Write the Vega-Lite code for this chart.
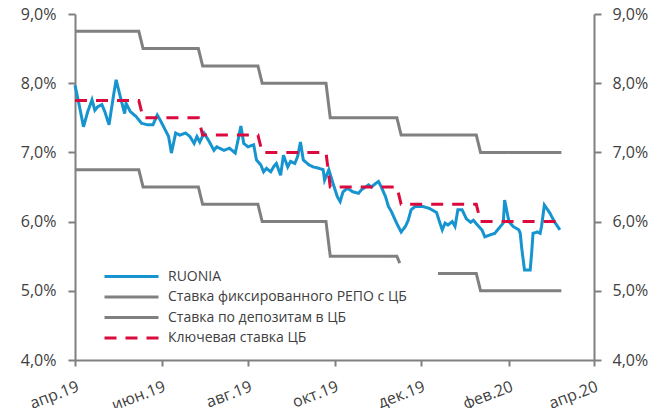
{
  "$schema": "https://vega.github.io/schema/vega-lite/v6.json",
  "width": 519,
  "height": 346,
  "autosize": {"type": "none"},
  "padding": {"left": 75, "top": 14, "right": 59, "bottom": 48},
  "background": "white",
  "config": {
    "view": {"stroke": null},
    "axis": {"grid": false, "domainColor": "#808080", "domainWidth": 2, "tickColor": "#808080", "tickWidth": 2, "tickSize": 7, "labelFont": "Open Sans", "labelFontSize": 16, "labelColor": "#404040", "title": null}
  },
  "data": {
    "values": [
      {"s": "RUONIA", "g": "a", "date": "2019-04-01", "v": 7.97},
      {"s": "RUONIA", "g": "a", "date": "2019-04-04", "v": 7.68},
      {"s": "RUONIA", "g": "a", "date": "2019-04-07", "v": 7.37},
      {"s": "RUONIA", "g": "a", "date": "2019-04-10", "v": 7.59},
      {"s": "RUONIA", "g": "a", "date": "2019-04-13", "v": 7.76},
      {"s": "RUONIA", "g": "a", "date": "2019-04-15", "v": 7.61},
      {"s": "RUONIA", "g": "a", "date": "2019-04-17", "v": 7.66},
      {"s": "RUONIA", "g": "a", "date": "2019-04-20", "v": 7.69},
      {"s": "RUONIA", "g": "a", "date": "2019-04-22", "v": 7.59},
      {"s": "RUONIA", "g": "a", "date": "2019-04-25", "v": 7.40},
      {"s": "RUONIA", "g": "a", "date": "2019-04-28", "v": 7.80},
      {"s": "RUONIA", "g": "a", "date": "2019-04-30", "v": 8.05},
      {"s": "RUONIA", "g": "a", "date": "2019-05-03", "v": 7.80},
      {"s": "RUONIA", "g": "a", "date": "2019-05-06", "v": 7.56},
      {"s": "RUONIA", "g": "a", "date": "2019-05-07", "v": 7.71},
      {"s": "RUONIA", "g": "a", "date": "2019-05-10", "v": 7.59},
      {"s": "RUONIA", "g": "a", "date": "2019-05-14", "v": 7.52},
      {"s": "RUONIA", "g": "a", "date": "2019-05-18", "v": 7.42},
      {"s": "RUONIA", "g": "a", "date": "2019-05-22", "v": 7.40},
      {"s": "RUONIA", "g": "a", "date": "2019-05-26", "v": 7.40},
      {"s": "RUONIA", "g": "a", "date": "2019-05-29", "v": 7.54},
      {"s": "RUONIA", "g": "a", "date": "2019-05-31", "v": 7.47},
      {"s": "RUONIA", "g": "a", "date": "2019-06-03", "v": 7.35},
      {"s": "RUONIA", "g": "a", "date": "2019-06-06", "v": 7.23},
      {"s": "RUONIA", "g": "a", "date": "2019-06-08", "v": 6.99},
      {"s": "RUONIA", "g": "a", "date": "2019-06-11", "v": 7.28},
      {"s": "RUONIA", "g": "a", "date": "2019-06-14", "v": 7.25},
      {"s": "RUONIA", "g": "a", "date": "2019-06-18", "v": 7.28},
      {"s": "RUONIA", "g": "a", "date": "2019-06-21", "v": 7.23},
      {"s": "RUONIA", "g": "a", "date": "2019-06-24", "v": 7.13},
      {"s": "RUONIA", "g": "a", "date": "2019-06-26", "v": 7.23},
      {"s": "RUONIA", "g": "a", "date": "2019-06-28", "v": 7.15},
      {"s": "RUONIA", "g": "a", "date": "2019-07-01", "v": 7.28},
      {"s": "RUONIA", "g": "a", "date": "2019-07-04", "v": 7.18},
      {"s": "RUONIA", "g": "a", "date": "2019-07-08", "v": 7.03},
      {"s": "RUONIA", "g": "a", "date": "2019-07-10", "v": 7.08},
      {"s": "RUONIA", "g": "a", "date": "2019-07-15", "v": 7.03},
      {"s": "RUONIA", "g": "a", "date": "2019-07-19", "v": 7.06},
      {"s": "RUONIA", "g": "a", "date": "2019-07-23", "v": 6.99},
      {"s": "RUONIA", "g": "a", "date": "2019-07-25", "v": 7.18},
      {"s": "RUONIA", "g": "a", "date": "2019-07-27", "v": 7.38},
      {"s": "RUONIA", "g": "a", "date": "2019-07-29", "v": 7.13},
      {"s": "RUONIA", "g": "a", "date": "2019-08-01", "v": 7.08},
      {"s": "RUONIA", "g": "a", "date": "2019-08-05", "v": 7.11},
      {"s": "RUONIA", "g": "a", "date": "2019-08-07", "v": 6.89},
      {"s": "RUONIA", "g": "a", "date": "2019-08-10", "v": 6.82},
      {"s": "RUONIA", "g": "a", "date": "2019-08-12", "v": 6.72},
      {"s": "RUONIA", "g": "a", "date": "2019-08-14", "v": 6.77},
      {"s": "RUONIA", "g": "a", "date": "2019-08-17", "v": 6.72},
      {"s": "RUONIA", "g": "a", "date": "2019-08-19", "v": 6.79},
      {"s": "RUONIA", "g": "a", "date": "2019-08-21", "v": 6.84},
      {"s": "RUONIA", "g": "a", "date": "2019-08-24", "v": 6.67},
      {"s": "RUONIA", "g": "a", "date": "2019-08-26", "v": 6.96},
      {"s": "RUONIA", "g": "a", "date": "2019-08-29", "v": 6.79},
      {"s": "RUONIA", "g": "a", "date": "2019-08-31", "v": 6.87},
      {"s": "RUONIA", "g": "a", "date": "2019-09-03", "v": 6.84},
      {"s": "RUONIA", "g": "a", "date": "2019-09-05", "v": 6.94},
      {"s": "RUONIA", "g": "a", "date": "2019-09-07", "v": 7.15},
      {"s": "RUONIA", "g": "a", "date": "2019-09-09", "v": 6.89},
      {"s": "RUONIA", "g": "a", "date": "2019-09-13", "v": 6.82},
      {"s": "RUONIA", "g": "a", "date": "2019-09-16", "v": 6.79},
      {"s": "RUONIA", "g": "a", "date": "2019-09-20", "v": 6.77},
      {"s": "RUONIA", "g": "a", "date": "2019-09-23", "v": 6.75},
      {"s": "RUONIA", "g": "a", "date": "2019-09-24", "v": 6.60},
      {"s": "RUONIA", "g": "a", "date": "2019-09-27", "v": 6.75},
      {"s": "RUONIA", "g": "a", "date": "2019-09-30", "v": 6.55},
      {"s": "RUONIA", "g": "a", "date": "2019-10-03", "v": 6.36},
      {"s": "RUONIA", "g": "a", "date": "2019-10-05", "v": 6.29},
      {"s": "RUONIA", "g": "a", "date": "2019-10-07", "v": 6.43},
      {"s": "RUONIA", "g": "a", "date": "2019-10-10", "v": 6.48},
      {"s": "RUONIA", "g": "a", "date": "2019-10-14", "v": 6.43},
      {"s": "RUONIA", "g": "a", "date": "2019-10-18", "v": 6.41},
      {"s": "RUONIA", "g": "a", "date": "2019-10-20", "v": 6.46},
      {"s": "RUONIA", "g": "a", "date": "2019-10-25", "v": 6.53},
      {"s": "RUONIA", "g": "a", "date": "2019-10-27", "v": 6.50},
      {"s": "RUONIA", "g": "a", "date": "2019-10-30", "v": 6.55},
      {"s": "RUONIA", "g": "a", "date": "2019-11-01", "v": 6.58},
      {"s": "RUONIA", "g": "a", "date": "2019-11-03", "v": 6.50},
      {"s": "RUONIA", "g": "a", "date": "2019-11-06", "v": 6.36},
      {"s": "RUONIA", "g": "a", "date": "2019-11-08", "v": 6.22},
      {"s": "RUONIA", "g": "a", "date": "2019-11-10", "v": 6.15},
      {"s": "RUONIA", "g": "a", "date": "2019-11-14", "v": 5.97},
      {"s": "RUONIA", "g": "a", "date": "2019-11-17", "v": 5.85},
      {"s": "RUONIA", "g": "a", "date": "2019-11-20", "v": 5.93},
      {"s": "RUONIA", "g": "a", "date": "2019-11-22", "v": 6.02},
      {"s": "RUONIA", "g": "a", "date": "2019-11-24", "v": 6.17},
      {"s": "RUONIA", "g": "a", "date": "2019-11-27", "v": 6.22},
      {"s": "RUONIA", "g": "a", "date": "2019-12-02", "v": 6.22},
      {"s": "RUONIA", "g": "a", "date": "2019-12-07", "v": 6.19},
      {"s": "RUONIA", "g": "a", "date": "2019-12-12", "v": 6.13},
      {"s": "RUONIA", "g": "a", "date": "2019-12-14", "v": 6.00},
      {"s": "RUONIA", "g": "a", "date": "2019-12-16", "v": 5.88},
      {"s": "RUONIA", "g": "a", "date": "2019-12-18", "v": 5.98},
      {"s": "RUONIA", "g": "a", "date": "2019-12-20", "v": 5.95},
      {"s": "RUONIA", "g": "a", "date": "2019-12-23", "v": 6.00},
      {"s": "RUONIA", "g": "a", "date": "2019-12-25", "v": 5.93},
      {"s": "RUONIA", "g": "a", "date": "2019-12-27", "v": 6.17},
      {"s": "RUONIA", "g": "a", "date": "2019-12-30", "v": 6.17},
      {"s": "RUONIA", "g": "a", "date": "2020-01-02", "v": 6.04},
      {"s": "RUONIA", "g": "a", "date": "2020-01-05", "v": 5.99},
      {"s": "RUONIA", "g": "a", "date": "2020-01-07", "v": 6.02},
      {"s": "RUONIA", "g": "a", "date": "2020-01-09", "v": 5.97},
      {"s": "RUONIA", "g": "a", "date": "2020-01-13", "v": 5.88},
      {"s": "RUONIA", "g": "a", "date": "2020-01-15", "v": 5.78},
      {"s": "RUONIA", "g": "a", "date": "2020-01-19", "v": 5.81},
      {"s": "RUONIA", "g": "a", "date": "2020-01-22", "v": 5.83},
      {"s": "RUONIA", "g": "a", "date": "2020-01-26", "v": 5.93},
      {"s": "RUONIA", "g": "a", "date": "2020-01-28", "v": 5.98},
      {"s": "RUONIA", "g": "a", "date": "2020-01-29", "v": 6.31},
      {"s": "RUONIA", "g": "a", "date": "2020-02-01", "v": 6.00},
      {"s": "RUONIA", "g": "a", "date": "2020-02-04", "v": 5.93},
      {"s": "RUONIA", "g": "a", "date": "2020-02-08", "v": 5.88},
      {"s": "RUONIA", "g": "a", "date": "2020-02-09", "v": 5.83},
      {"s": "RUONIA", "g": "a", "date": "2020-02-10", "v": 5.62},
      {"s": "RUONIA", "g": "a", "date": "2020-02-12", "v": 5.30},
      {"s": "RUONIA", "g": "a", "date": "2020-02-16", "v": 5.30},
      {"s": "RUONIA", "g": "a", "date": "2020-02-17", "v": 5.54},
      {"s": "RUONIA", "g": "a", "date": "2020-02-18", "v": 5.83},
      {"s": "RUONIA", "g": "a", "date": "2020-02-21", "v": 5.85},
      {"s": "RUONIA", "g": "a", "date": "2020-02-23", "v": 5.83},
      {"s": "RUONIA", "g": "a", "date": "2020-02-24", "v": 5.93},
      {"s": "RUONIA", "g": "a", "date": "2020-02-26", "v": 6.24},
      {"s": "RUONIA", "g": "a", "date": "2020-03-01", "v": 6.12},
      {"s": "RUONIA", "g": "a", "date": "2020-03-04", "v": 6.00},
      {"s": "RUONIA", "g": "a", "date": "2020-03-08", "v": 5.88},

      {"s": "Ставка фиксированного РЕПО с ЦБ", "g": "b", "date": "2019-04-01", "v": 8.75},
      {"s": "Ставка фиксированного РЕПО с ЦБ", "g": "b", "date": "2019-05-16", "v": 8.75},
      {"s": "Ставка фиксированного РЕПО с ЦБ", "g": "b", "date": "2019-05-19", "v": 8.5},
      {"s": "Ставка фиксированного РЕПО с ЦБ", "g": "b", "date": "2019-06-27", "v": 8.5},
      {"s": "Ставка фиксированного РЕПО с ЦБ", "g": "b", "date": "2019-06-30", "v": 8.25},
      {"s": "Ставка фиксированного РЕПО с ЦБ", "g": "b", "date": "2019-08-08", "v": 8.25},
      {"s": "Ставка фиксированного РЕПО с ЦБ", "g": "b", "date": "2019-08-11", "v": 8.0},
      {"s": "Ставка фиксированного РЕПО с ЦБ", "g": "b", "date": "2019-09-25", "v": 8.0},
      {"s": "Ставка фиксированного РЕПО с ЦБ", "g": "b", "date": "2019-09-28", "v": 7.5},
      {"s": "Ставка фиксированного РЕПО с ЦБ", "g": "b", "date": "2019-11-14", "v": 7.5},
      {"s": "Ставка фиксированного РЕПО с ЦБ", "g": "b", "date": "2019-11-17", "v": 7.25},
      {"s": "Ставка фиксированного РЕПО с ЦБ", "g": "b", "date": "2020-01-09", "v": 7.25},
      {"s": "Ставка фиксированного РЕПО с ЦБ", "g": "b", "date": "2020-01-12", "v": 7.0},
      {"s": "Ставка фиксированного РЕПО с ЦБ", "g": "b", "date": "2020-03-09", "v": 7.0},

      {"s": "Ставка по депозитам в ЦБ", "g": "c1", "date": "2019-04-01", "v": 6.75},
      {"s": "Ставка по депозитам в ЦБ", "g": "c1", "date": "2019-05-16", "v": 6.75},
      {"s": "Ставка по депозитам в ЦБ", "g": "c1", "date": "2019-05-19", "v": 6.5},
      {"s": "Ставка по депозитам в ЦБ", "g": "c1", "date": "2019-06-27", "v": 6.5},
      {"s": "Ставка по депозитам в ЦБ", "g": "c1", "date": "2019-06-30", "v": 6.25},
      {"s": "Ставка по депозитам в ЦБ", "g": "c1", "date": "2019-08-08", "v": 6.25},
      {"s": "Ставка по депозитам в ЦБ", "g": "c1", "date": "2019-08-11", "v": 6.0},
      {"s": "Ставка по депозитам в ЦБ", "g": "c1", "date": "2019-09-25", "v": 6.0},
      {"s": "Ставка по депозитам в ЦБ", "g": "c1", "date": "2019-09-28", "v": 5.5},
      {"s": "Ставка по депозитам в ЦБ", "g": "c1", "date": "2019-11-14", "v": 5.5},
      {"s": "Ставка по депозитам в ЦБ", "g": "c1", "date": "2019-11-16", "v": 5.4},
      {"s": "Ставка по депозитам в ЦБ", "g": "c2", "date": "2019-12-13", "v": 5.25},
      {"s": "Ставка по депозитам в ЦБ", "g": "c2", "date": "2020-01-09", "v": 5.25},
      {"s": "Ставка по депозитам в ЦБ", "g": "c2", "date": "2020-01-12", "v": 5.0},
      {"s": "Ставка по депозитам в ЦБ", "g": "c2", "date": "2020-03-09", "v": 5.0},

      {"s": "Ключевая ставка ЦБ", "g": "d", "date": "2019-04-01", "v": 7.75},
      {"s": "Ключевая ставка ЦБ", "g": "d", "date": "2019-05-16", "v": 7.75},
      {"s": "Ключевая ставка ЦБ", "g": "d", "date": "2019-05-19", "v": 7.5},
      {"s": "Ключевая ставка ЦБ", "g": "d", "date": "2019-06-27", "v": 7.5},
      {"s": "Ключевая ставка ЦБ", "g": "d", "date": "2019-06-30", "v": 7.25},
      {"s": "Ключевая ставка ЦБ", "g": "d", "date": "2019-08-08", "v": 7.25},
      {"s": "Ключевая ставка ЦБ", "g": "d", "date": "2019-08-11", "v": 7.0},
      {"s": "Ключевая ставка ЦБ", "g": "d", "date": "2019-09-25", "v": 7.0},
      {"s": "Ключевая ставка ЦБ", "g": "d", "date": "2019-09-28", "v": 6.5},
      {"s": "Ключевая ставка ЦБ", "g": "d", "date": "2019-11-14", "v": 6.5},
      {"s": "Ключевая ставка ЦБ", "g": "d", "date": "2019-11-17", "v": 6.25},
      {"s": "Ключевая ставка ЦБ", "g": "d", "date": "2020-01-09", "v": 6.25},
      {"s": "Ключевая ставка ЦБ", "g": "d", "date": "2020-01-12", "v": 6.0},
      {"s": "Ключевая ставка ЦБ", "g": "d", "date": "2020-03-09", "v": 6.0}
    ],
    "format": {"parse": {"date": "date:'%Y-%m-%d'"}}
  },
  "encoding": {
    "x": {
      "field": "date",
      "type": "temporal",
      "scale": {"domain": [{"year": 2019, "month": 4, "date": 1}, {"year": 2020, "month": 4, "date": 1}]},
      "axis": {
        "values": [
          {"year": 2019, "month": 4, "date": 1},
          {"year": 2019, "month": 6, "date": 1},
          {"year": 2019, "month": 8, "date": 1},
          {"year": 2019, "month": 10, "date": 1},
          {"year": 2019, "month": 12, "date": 1},
          {"year": 2020, "month": 2, "date": 1},
          {"year": 2020, "month": 4, "date": 1}
        ],
        "labelExpr": "['янв','фев','мар','апр','май','июн','июл','авг','сен','окт','ноя','дек'][month(datum.value)] + '.' + timeFormat(datum.value, '%y')",
        "labelAngle": -21,
        "tickSize": 6,
        "labelPadding": 12,
        "labelFlush": false,
        "labelOverlap": false
      }
    },
    "y": {
      "field": "v",
      "type": "quantitative",
      "scale": {"domain": [4, 9], "nice": false, "zero": false}
    }
  },
  "layer": [
    {
      "mark": {"type": "line", "strokeWidth": 3, "strokeCap": "butt", "interpolate": "linear"},
      "encoding": {
        "y": {
          "field": "v",
          "type": "quantitative",
          "scale": {"domain": [4, 9], "nice": false, "zero": false},
          "axis": {"orient": "left", "values": [4, 5, 6, 7, 8, 9], "labelExpr": "replace(format(datum.value, '.1f'), '.', ',') + '%'", "labelPadding": 12}
        },
        "detail": {"field": "g"},
        "color": {
          "field": "s",
          "type": "nominal",
          "sort": null,
          "scale": {
            "domain": ["RUONIA", "Ставка фиксированного РЕПО с ЦБ", "Ставка по депозитам в ЦБ", "Ключевая ставка ЦБ"],
            "range": ["#1594CF", "#808080", "#808080", "#DC0B3E"]
          },
          "legend": {
            "orient": "none",
            "legendX": 28,
            "legendY": 252,
            "title": null,
            "symbolType": "M-1,0H5",
            "symbolSize": 324,
            "symbolStrokeWidth": 3,
            "labelOffset": 44,
            "labelFontSize": 14,
            "labelFont": "Open Sans",
            "labelColor": "#404040",
            "rowPadding": 2.5,
            "labelLimit": 400
          }
        },
        "strokeDash": {
          "field": "s",
          "type": "nominal",
          "sort": null,
          "scale": {
            "domain": ["RUONIA", "Ставка фиксированного РЕПО с ЦБ", "Ставка по депозитам в ЦБ", "Ключевая ставка ЦБ"],
            "range": [[1, 0], [1, 0], [1, 0], [12, 9]]
          },
          "legend": {
            "orient": "none",
            "legendX": 28,
            "legendY": 252,
            "title": null,
            "symbolType": "M-1,0H5",
            "symbolSize": 324,
            "symbolStrokeWidth": 3,
            "labelOffset": 44,
            "labelFontSize": 14,
            "labelFont": "Open Sans",
            "labelColor": "#404040",
            "rowPadding": 2.5,
            "labelLimit": 400
          }
        }
      }
    },
    {
      "mark": {"type": "line", "opacity": 0},
      "encoding": {
        "y": {
          "field": "v",
          "type": "quantitative",
          "scale": {"domain": [4, 9], "nice": false, "zero": false},
          "axis": {"orient": "right", "values": [4, 5, 6, 7, 8, 9], "labelExpr": "replace(format(datum.value, '.1f'), '.', ',') + '%'", "labelPadding": 11}
        },
        "detail": {"field": "g"}
      }
    }
  ],
  "resolve": {"axis": {"y": "independent"}}
}
